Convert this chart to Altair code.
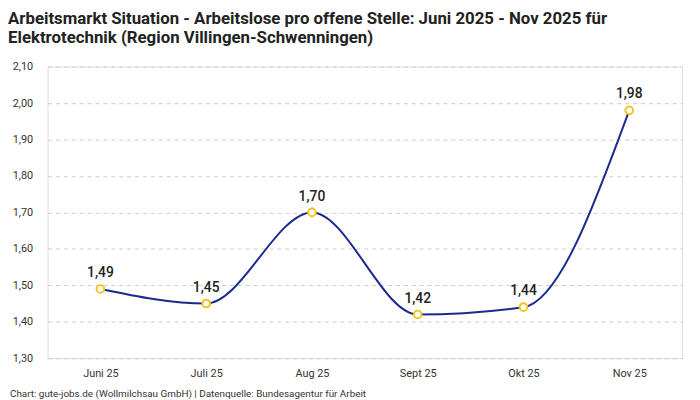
import altair as alt
import pandas as pd

months = ["Juni 25", "Juli 25", "Aug 25", "Sept 25", "Okt 25", "Nov 25"]
values = [1.49, 1.45, 1.70, 1.42, 1.44, 1.98]
labels = ["1,49", "1,45", "1,70", "1,42", "1,44", "1,98"]

title_lines = ["Arbeitsmarkt Situation - Arbeitslose pro offene Stelle: Juni 2025 - Nov 2025 für",
               "Elektrotechnik (Region Villingen-Schwenningen)"]
footer = "Chart: gute-jobs.de (Wollmilchsau GmbH) | Datenquelle: Bundesagentur für Arbeit"

df = pd.DataFrame({"Monat": months, "Wert": values, "Label": labels})

FONT = "Roboto"
x = alt.X("Monat:N", sort=months, title=None,
          scale=alt.Scale(type="point", padding=0.5),
          axis=alt.Axis(labelAngle=0, ticks=False, domain=False, labelPadding=10,
                        labelFontSize=11, labelColor="#333", labelFont=FONT, grid=False))
y = alt.Y("Wert:Q", title=None,
          scale=alt.Scale(domain=[1.3, 2.1], nice=False, zero=False),
          axis=alt.Axis(values=[1.3, 1.4, 1.5, 1.6, 1.7, 1.8, 1.9, 2.0, 2.1],
                        labelExpr="replace(format(datum.value, '.2f'), '.', ',')",
                        ticks=False, domain=False, labelPadding=15,
                        labelFontSize=11, labelColor="#333", labelFont=FONT,
                        grid=True, gridColor="#cccccc", gridDash=[4, 4], gridWidth=1))

base = alt.Chart(df)
line = base.mark_line(interpolate="monotone", color="#1a2a8c", strokeWidth=2).encode(x=x, y=y)
pts = base.mark_point(filled=True, fill="white", stroke="#f5c21b", strokeWidth=2,
                      size=60, opacity=1).encode(x=x, y=y)
txt = base.mark_text(dy=-16, fontSize=14, fontWeight=500, color="#222", font=FONT).encode(
    x=x, y=y, text="Label:N")
foot = alt.Chart(pd.DataFrame({"t": [footer]})).mark_text(
    align="left", baseline="middle", fontSize=10, color="#333", font=FONT).encode(
    x=alt.value(-38), y=alt.value(331), text="t:N")

chart = alt.layer(line, pts, txt, foot).properties(
    width=642, height=295,
    title=alt.TitleParams(title_lines, anchor="start", dx=-2, offset=14, fontSize=17,
                          fontWeight="bold", color="#222", font=FONT, lineHeight=19),
    autosize=alt.AutoSizeParams(type="none"),
    padding={"left": 40, "top": 57, "right": 10, "bottom": 40},
).configure_view(stroke=None).configure(background="white")

chart.save("out.html", embed_options={"renderer": "svg", "actions": False})
